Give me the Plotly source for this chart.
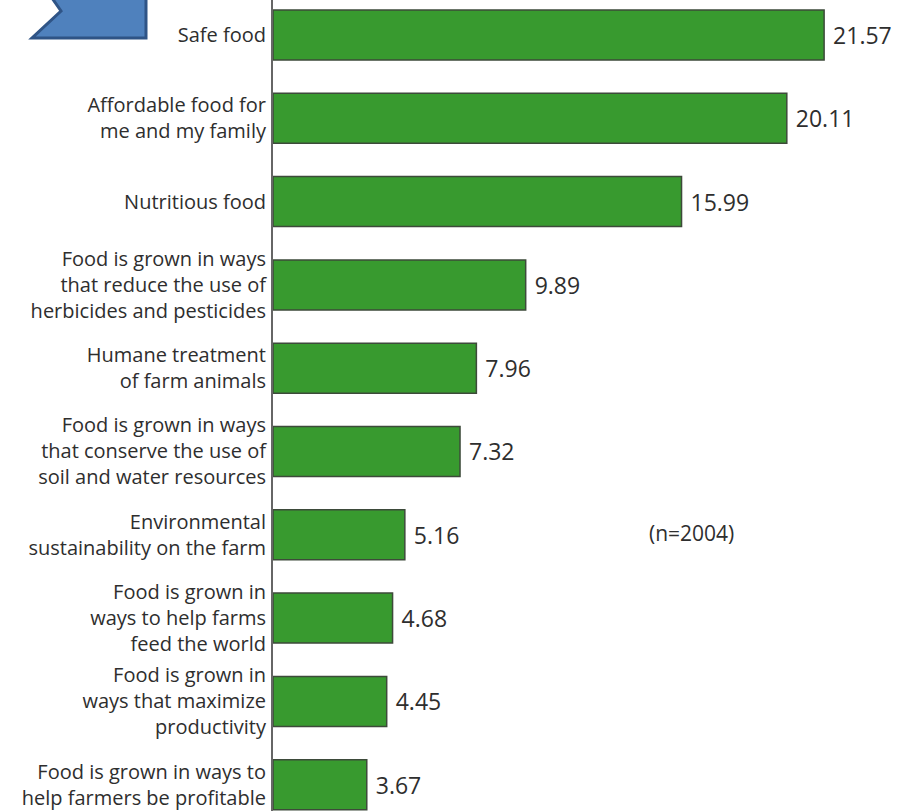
import plotly.graph_objects as go

categories = [
    "Safe food",
    "Affordable food for<br>me and my family",
    "Nutritious food",
    "Food is grown in ways<br>that reduce the use of<br>herbicides and pesticides",
    "Humane treatment<br>of farm animals",
    "Food is grown in ways<br>that conserve the use of<br>soil and water resources",
    "Environmental<br>sustainability on the farm",
    "Food is grown in<br>ways to help farms<br>feed the world",
    "Food is grown in<br>ways that maximize<br>productivity",
    "Food is grown in ways to<br>help farmers be profitable",
]
values = [21.57, 20.11, 15.99, 9.89, 7.96, 7.32, 5.16, 4.68, 4.45, 3.67]
value_labels = ["21.57", "20.11", "15.99", "9.89", "7.96", "7.32", "5.16", "4.68", "4.45", "3.67"]

W, H = 904, 811
L = 273
pw = W - L

fig = go.Figure(go.Bar(
    x=values, y=categories, orientation="h",
    marker=dict(color="#389a2f", line=dict(color="#3d4a3a", width=1.5)),
    width=0.6,
    text=[" " + v for v in value_labels], textposition="outside",
    textfont=dict(size=23, color="#2e2e2e", family="Open Sans"),
    cliponaxis=False,
))

def px(x, y):
    return (x - L) / pw, 1 - y / H

chev = [(52, -2), (61, 11), (32, 38), (146, 38), (146, -2)]
pts = [px(x, y) for x, y in chev]
path = "M " + " L ".join(f"{a},{b}" for a, b in pts) + " Z"

fig.update_layout(
    width=W, height=H,
    margin=dict(l=L, r=0, t=0, b=0, autoexpand=False),
    plot_bgcolor="white", paper_bgcolor="white",
    showlegend=False,
    font=dict(family="Open Sans", size=20, color="#2e2e2e"),
    xaxis=dict(range=[0, pw / 25.55], visible=False, showgrid=False,
               zeroline=False, automargin=False),
    yaxis=dict(
        categoryorder="array", categoryarray=categories,
        range=[-0.42 + H / 83.3, -0.42],
        showgrid=False, zeroline=False, automargin=False,
        showline=True, linecolor="#666666", linewidth=2,
        ticks="", ticklabelstandoff=1,
        tickfont=dict(size=20, color="#2e2e2e", family="Open Sans"),
    ),
    shapes=[dict(type="path", path=path, xref="paper", yref="paper",
                 fillcolor="#4f81bd", line=dict(color="#2f5486", width=3), layer="above")],
    annotations=[dict(text="(n=2004)", xref="paper", yref="paper",
                      x=px(691, 549)[0], y=px(691, 549)[1],
                      showarrow=False, font=dict(size=21, color="#2e2e2e", family="Open Sans"))],
)

fig.write_html("out.html", config={"displayModeBar": False},
               post_script="document.body.style.margin='0';")
